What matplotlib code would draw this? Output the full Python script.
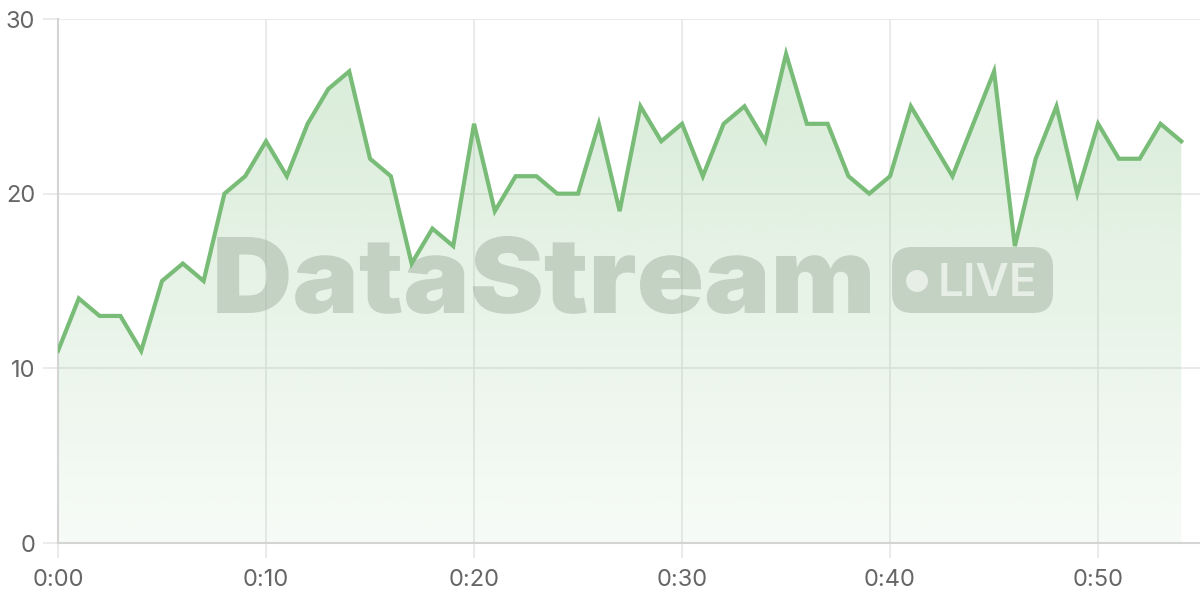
import matplotlib
matplotlib.use("Agg")
import matplotlib.pyplot as plt
import numpy as np
from matplotlib.patches import FancyBboxPatch, Circle, Polygon, PathPatch
from matplotlib.textpath import TextPath
from matplotlib.font_manager import FontProperties
from matplotlib.transforms import Affine2D

# ---- data ----
minutes = list(range(55))
values = [11, 14, 13, 13, 11, 15, 16, 15, 20, 21,
          23, 21, 24, 26, 27, 22, 21, 16, 18, 17,
          24, 19, 21, 21, 20, 20, 24, 19, 25, 23,
          24, 21, 24, 25, 23, 28, 24, 24, 21, 20,
          21, 25, 23, 21, 24, 27, 17, 22, 25, 20,
          24, 22, 22, 24, 23]
x_ticks = [0, 10, 20, 30, 40, 50]
x_tick_labels = ["0:00", "0:10", "0:20", "0:30", "0:40", "0:50"]
y_ticks = [0, 10, 20, 30]
y_tick_labels = ["0", "10", "20", "30"]
watermark_text = "DataStream"
badge_text = "LIVE"

plt.rcParams['font.family'] = ['Inter', 'DejaVu Sans']

line_color = '#78bc78'
fig = plt.figure(figsize=(12, 6), dpi=100)

# helper axes giving a pixel coordinate system (origin top-left)
ov = fig.add_axes([0, 0, 1, 1], zorder=0)
ov.set_xlim(0, 1200)
ov.set_ylim(600, 0)
ov.axis('off')
px = ov.transData

ax = fig.add_axes([58/1200, 57/600, 1142/1200, 524/600], zorder=1)
ax.patch.set_alpha(0)
ax.set_xlim(0, 54.9)
ax.set_ylim(0, 30)

x = np.array(minutes, dtype=float)
y = np.array(values, dtype=float)

# gradient fill
verts = [(x[0], 0)] + list(zip(x, y)) + [(x[-1], 0)]
poly = Polygon(verts, closed=True, facecolor='none', edgecolor='none')
ax.add_patch(poly)
grad = np.linspace(0, 1, 256).reshape(-1, 1)
rgba = np.zeros((256, 1, 4))
base = matplotlib.colors.to_rgb(line_color)
rgba[..., 0] = base[0]
rgba[..., 1] = base[1]
rgba[..., 2] = base[2]
rgba[..., 3] = (0.06 + (0.30 - 0.06) * grad)
im = ax.imshow(rgba, extent=[0, 54, 0, 30], origin='lower', aspect='auto',
               interpolation='bilinear', zorder=1)
im.set_clip_path(poly)

ax.plot(x, y, color=line_color, linewidth=3, zorder=4, solid_joinstyle='miter')

# grid & axes
ax.set_xticks(x_ticks)
ax.set_xticklabels(x_tick_labels)
ax.set_yticks(y_ticks)
ax.set_yticklabels(y_tick_labels)
ax.grid(True, color='#e8e8e8', linewidth=1.2, zorder=0)
ax.set_axisbelow(True)
for s in ['top', 'right']:
    ax.spines[s].set_visible(False)
for s in ['left', 'bottom']:
    ax.spines[s].set_color('#d4d4d4')
    ax.spines[s].set_linewidth(1.5)
    ax.spines[s].set_zorder(2)
ax.tick_params(axis='both', length=10.5, width=1.2, color='#e8e8e8',
               labelsize=17, labelcolor='#666666')
ax.tick_params(axis='y', pad=6)
ax.tick_params(axis='x', pad=8)

# watermark (above fill, below line)
wm_color = '#a2b2a2'
wm_alpha = 0.5
fp = FontProperties(family=['Inter', 'DejaVu Sans'], weight='black')
tp = TextPath((0, 0), watermark_text, size=100, prop=fp)
v = tp.vertices
xmin, xmax = v[:, 0].min(), v[:, 0].max()
cap = TextPath((0, 0), "D", size=100, prop=fp).vertices[:, 1].max()
left_px, right_px, base_px, top_px = 212, 870, 313, 237
sx = (right_px - left_px) / (xmax - xmin)
sy = (base_px - top_px) / cap
tr = Affine2D().translate(-xmin, 0).scale(sx, -sy).translate(left_px, base_px)
ax.add_patch(PathPatch(tr.transform_path(tp), facecolor=wm_color,
                       edgecolor='none', alpha=wm_alpha, transform=px, zorder=3))

ax.add_patch(FancyBboxPatch((892 + 20, 247 + 20), 161 - 40, 66 - 40,
                            boxstyle='round,pad=20', facecolor=wm_color,
                            edgecolor='none', alpha=wm_alpha, transform=px, zorder=3))
ax.add_patch(Circle((917, 281), 11, facecolor='#e6eee6', edgecolor='none',
                    transform=px, zorder=3.1))
ax.text(938, 280, badge_text, fontsize=33, fontweight='semibold',
        family=['Inter', 'DejaVu Sans'], color='#e6eee6', transform=px,
        ha='left', va='center_baseline', zorder=3.2)

fig.savefig('out.png', dpi=100)
